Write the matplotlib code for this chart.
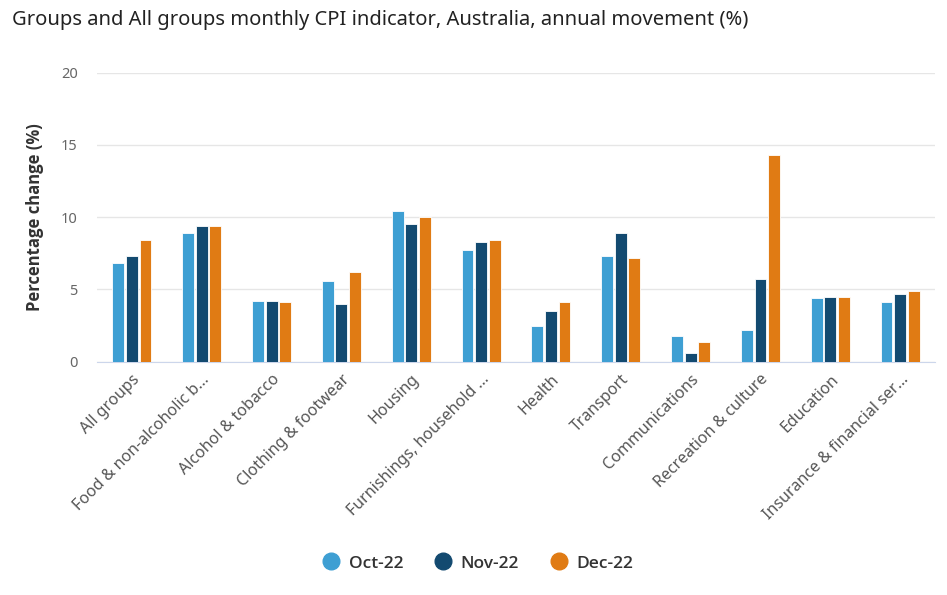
import numpy as np
import matplotlib.pyplot as plt

plt.rcParams['font.family'] = ['Noto Sans', 'DejaVu Sans']

categories = ["All groups", "Food & non-alcoholic b...", "Alcohol & tobacco",
              "Clothing & footwear", "Housing", "Furnishings, household ...",
              "Health", "Transport", "Communications", "Recreation & culture",
              "Education", "Insurance & financial ser..."]
oct22 = [6.8, 8.9, 4.2, 5.6, 10.4, 7.7, 2.5, 7.3, 1.8, 2.2, 4.4, 4.1]
nov22 = [7.3, 9.4, 4.2, 4.0, 9.5, 8.3, 3.5, 8.9, 0.6, 5.7, 4.5, 4.7]
dec22 = [8.4, 9.4, 4.1, 6.2, 10.0, 8.4, 4.1, 7.2, 1.4, 14.3, 4.5, 4.9]
series = ["Oct-22", "Nov-22", "Dec-22"]
colors = ["#3e9fd3", "#134a70", "#e07b14"]

fig = plt.figure(figsize=(9.47, 5.95), dpi=100)
ax = fig.add_axes([0.1024, 0.392, 0.885, 0.486])

x = np.arange(len(categories))
w = 0.17
for i, (vals, name, c) in enumerate(zip([oct22, nov22, dec22], series, colors)):
    ax.bar(x + (i - 1) * 0.195, vals, w, color=c, edgecolor='white', linewidth=0.6,
           label=name, zorder=3)

ax.set_xlim(-0.5, len(categories) - 0.5)
ax.set_ylim(0, 20)
ax.set_yticks([0, 5, 10, 15, 20])
ax.grid(axis='y', color='#e6e6e6', linewidth=1, zorder=0)
for s in ['top', 'right', 'left']:
    ax.spines[s].set_visible(False)
ax.spines['bottom'].set_color('#ccd6eb')
ax.tick_params(axis='y', length=0, pad=14, labelsize=10.5, labelcolor='#666666')
ax.tick_params(axis='x', length=0, pad=7)
ax.set_xticks(x)
ax.set_xticklabels(categories, rotation=45, ha='right', rotation_mode='anchor',
                   fontsize=11.5, color='#555555')
ax.set_ylabel("Percentage change (%)", fontsize=12, fontweight='bold',
              family=['Open Sans', 'DejaVu Sans'], color='#333333', labelpad=12)

fig.text(0.013, 0.966, "Groups and All groups monthly CPI indicator, Australia, annual movement (%)",
         fontsize=14.5, color='#222222', va='center')

handles = [plt.Line2D([], [], marker='o', linestyle='', markersize=12, color=c) for c in colors]
fig.legend(handles, series, loc='center', bbox_to_anchor=(0.5, 0.053), ncol=3,
           frameon=False, handletextpad=0.0, columnspacing=1.3,
           prop={'family': ['Open Sans', 'DejaVu Sans'], 'weight': 'semibold', 'size': 12.5})
for t in fig.legends[0].get_texts():
    t.set_color('#333333')

fig.savefig("out.png", dpi=100)
